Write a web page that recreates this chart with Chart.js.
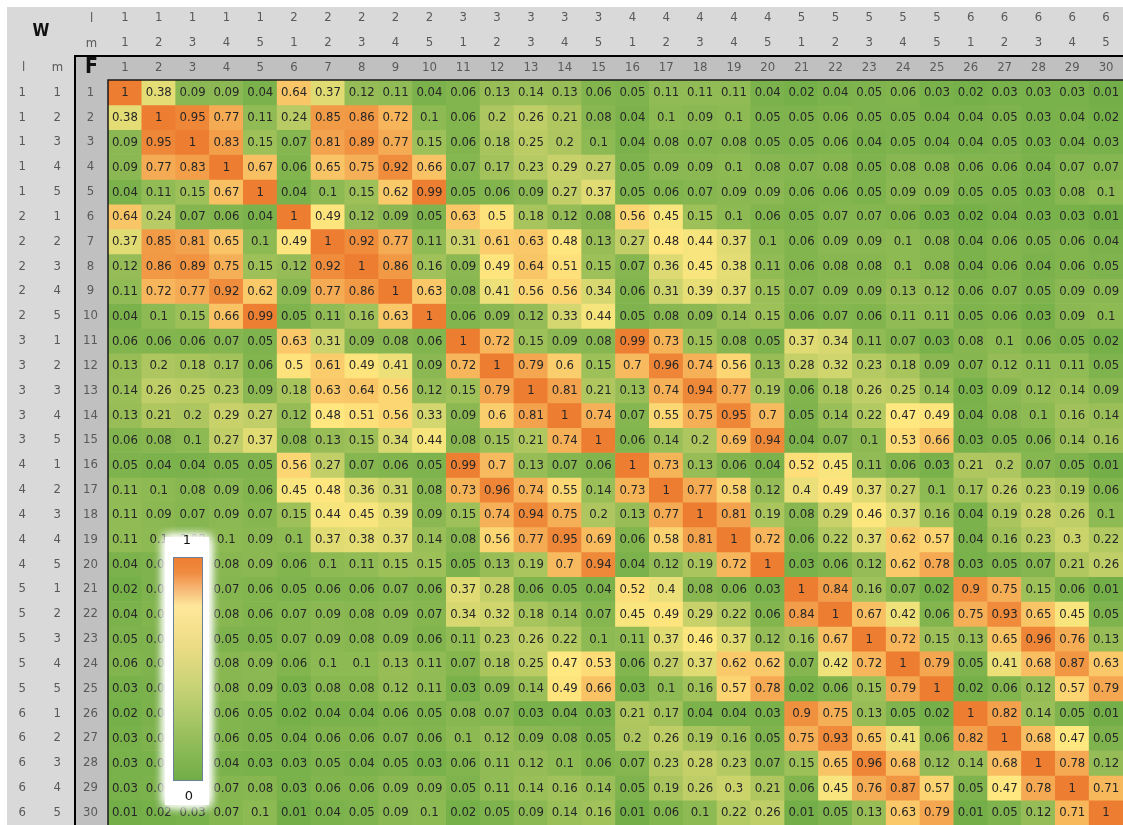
<!DOCTYPE html>
<html>
<head>
<meta charset="utf-8">
<title>Correlation heatmap</title>
<script src="https://cdn.jsdelivr.net/npm/chart.js@4.4.1/dist/chart.umd.min.js"></script>
<style>
  html, body { margin: 0; padding: 0; background: #fff; }
  #wrap { width: 1123px; height: 825px; }
</style>
</head>
<body>
<div id="wrap"><canvas id="heat" width="1123" height="825"></canvas></div>
<script>
// field numbers and their l / m codes
const fields = ['1','2','3','4','5','6','7','8','9','10','11','12','13','14','15',
  '16','17','18','19','20','21','22','23','24','25','26','27','28','29','30'];
const lLabels = ['1','1','1','1','1','2','2','2','2','2','3','3','3','3','3',
  '4','4','4','4','4','5','5','5','5','5','6','6','6','6','6'];
const mLabels = ['1','2','3','4','5','1','2','3','4','5','1','2','3','4','5',
  '1','2','3','4','5','1','2','3','4','5','1','2','3','4','5'];

// correlation between fields, one row per field
const corr = [
  [1,0.38,0.09,0.09,0.04,0.64,0.37,0.12,0.11,0.04,0.06,0.13,0.14,0.13,0.06,0.05,0.11,0.11,0.11,0.04,0.02,0.04,0.05,0.06,0.03,0.02,0.03,0.03,0.03,0.01],
  [0.38,1,0.95,0.77,0.11,0.24,0.85,0.86,0.72,0.1,0.06,0.2,0.26,0.21,0.08,0.04,0.1,0.09,0.1,0.05,0.05,0.06,0.05,0.05,0.04,0.04,0.05,0.03,0.04,0.02],
  [0.09,0.95,1,0.83,0.15,0.07,0.81,0.89,0.77,0.15,0.06,0.18,0.25,0.2,0.1,0.04,0.08,0.07,0.08,0.05,0.05,0.06,0.04,0.05,0.04,0.04,0.05,0.03,0.04,0.03],
  [0.09,0.77,0.83,1,0.67,0.06,0.65,0.75,0.92,0.66,0.07,0.17,0.23,0.29,0.27,0.05,0.09,0.09,0.1,0.08,0.07,0.08,0.05,0.08,0.08,0.06,0.06,0.04,0.07,0.07],
  [0.04,0.11,0.15,0.67,1,0.04,0.1,0.15,0.62,0.99,0.05,0.06,0.09,0.27,0.37,0.05,0.06,0.07,0.09,0.09,0.06,0.06,0.05,0.09,0.09,0.05,0.05,0.03,0.08,0.1],
  [0.64,0.24,0.07,0.06,0.04,1,0.49,0.12,0.09,0.05,0.63,0.5,0.18,0.12,0.08,0.56,0.45,0.15,0.1,0.06,0.05,0.07,0.07,0.06,0.03,0.02,0.04,0.03,0.03,0.01],
  [0.37,0.85,0.81,0.65,0.1,0.49,1,0.92,0.77,0.11,0.31,0.61,0.63,0.48,0.13,0.27,0.48,0.44,0.37,0.1,0.06,0.09,0.09,0.1,0.08,0.04,0.06,0.05,0.06,0.04],
  [0.12,0.86,0.89,0.75,0.15,0.12,0.92,1,0.86,0.16,0.09,0.49,0.64,0.51,0.15,0.07,0.36,0.45,0.38,0.11,0.06,0.08,0.08,0.1,0.08,0.04,0.06,0.04,0.06,0.05],
  [0.11,0.72,0.77,0.92,0.62,0.09,0.77,0.86,1,0.63,0.08,0.41,0.56,0.56,0.34,0.06,0.31,0.39,0.37,0.15,0.07,0.09,0.09,0.13,0.12,0.06,0.07,0.05,0.09,0.09],
  [0.04,0.1,0.15,0.66,0.99,0.05,0.11,0.16,0.63,1,0.06,0.09,0.12,0.33,0.44,0.05,0.08,0.09,0.14,0.15,0.06,0.07,0.06,0.11,0.11,0.05,0.06,0.03,0.09,0.1],
  [0.06,0.06,0.06,0.07,0.05,0.63,0.31,0.09,0.08,0.06,1,0.72,0.15,0.09,0.08,0.99,0.73,0.15,0.08,0.05,0.37,0.34,0.11,0.07,0.03,0.08,0.1,0.06,0.05,0.02],
  [0.13,0.2,0.18,0.17,0.06,0.5,0.61,0.49,0.41,0.09,0.72,1,0.79,0.6,0.15,0.7,0.96,0.74,0.56,0.13,0.28,0.32,0.23,0.18,0.09,0.07,0.12,0.11,0.11,0.05],
  [0.14,0.26,0.25,0.23,0.09,0.18,0.63,0.64,0.56,0.12,0.15,0.79,1,0.81,0.21,0.13,0.74,0.94,0.77,0.19,0.06,0.18,0.26,0.25,0.14,0.03,0.09,0.12,0.14,0.09],
  [0.13,0.21,0.2,0.29,0.27,0.12,0.48,0.51,0.56,0.33,0.09,0.6,0.81,1,0.74,0.07,0.55,0.75,0.95,0.7,0.05,0.14,0.22,0.47,0.49,0.04,0.08,0.1,0.16,0.14],
  [0.06,0.08,0.1,0.27,0.37,0.08,0.13,0.15,0.34,0.44,0.08,0.15,0.21,0.74,1,0.06,0.14,0.2,0.69,0.94,0.04,0.07,0.1,0.53,0.66,0.03,0.05,0.06,0.14,0.16],
  [0.05,0.04,0.04,0.05,0.05,0.56,0.27,0.07,0.06,0.05,0.99,0.7,0.13,0.07,0.06,1,0.73,0.13,0.06,0.04,0.52,0.45,0.11,0.06,0.03,0.21,0.2,0.07,0.05,0.01],
  [0.11,0.1,0.08,0.09,0.06,0.45,0.48,0.36,0.31,0.08,0.73,0.96,0.74,0.55,0.14,0.73,1,0.77,0.58,0.12,0.4,0.49,0.37,0.27,0.1,0.17,0.26,0.23,0.19,0.06],
  [0.11,0.09,0.07,0.09,0.07,0.15,0.44,0.45,0.39,0.09,0.15,0.74,0.94,0.75,0.2,0.13,0.77,1,0.81,0.19,0.08,0.29,0.46,0.37,0.16,0.04,0.19,0.28,0.26,0.1],
  [0.11,0.1,0.08,0.1,0.09,0.1,0.37,0.38,0.37,0.14,0.08,0.56,0.77,0.95,0.69,0.06,0.58,0.81,1,0.72,0.06,0.22,0.37,0.62,0.57,0.04,0.16,0.23,0.3,0.22],
  [0.04,0.05,0.05,0.08,0.09,0.06,0.1,0.11,0.15,0.15,0.05,0.13,0.19,0.7,0.94,0.04,0.12,0.19,0.72,1,0.03,0.06,0.12,0.62,0.78,0.03,0.05,0.07,0.21,0.26],
  [0.02,0.05,0.05,0.07,0.06,0.05,0.06,0.06,0.07,0.06,0.37,0.28,0.06,0.05,0.04,0.52,0.4,0.08,0.06,0.03,1,0.84,0.16,0.07,0.02,0.9,0.75,0.15,0.06,0.01],
  [0.04,0.06,0.06,0.08,0.06,0.07,0.09,0.08,0.09,0.07,0.34,0.32,0.18,0.14,0.07,0.45,0.49,0.29,0.22,0.06,0.84,1,0.67,0.42,0.06,0.75,0.93,0.65,0.45,0.05],
  [0.05,0.05,0.04,0.05,0.05,0.07,0.09,0.08,0.09,0.06,0.11,0.23,0.26,0.22,0.1,0.11,0.37,0.46,0.37,0.12,0.16,0.67,1,0.72,0.15,0.13,0.65,0.96,0.76,0.13],
  [0.06,0.05,0.05,0.08,0.09,0.06,0.1,0.1,0.13,0.11,0.07,0.18,0.25,0.47,0.53,0.06,0.27,0.37,0.62,0.62,0.07,0.42,0.72,1,0.79,0.05,0.41,0.68,0.87,0.63],
  [0.03,0.04,0.04,0.08,0.09,0.03,0.08,0.08,0.12,0.11,0.03,0.09,0.14,0.49,0.66,0.03,0.1,0.16,0.57,0.78,0.02,0.06,0.15,0.79,1,0.02,0.06,0.12,0.57,0.79],
  [0.02,0.04,0.04,0.06,0.05,0.02,0.04,0.04,0.06,0.05,0.08,0.07,0.03,0.04,0.03,0.21,0.17,0.04,0.04,0.03,0.9,0.75,0.13,0.05,0.02,1,0.82,0.14,0.05,0.01],
  [0.03,0.05,0.05,0.06,0.05,0.04,0.06,0.06,0.07,0.06,0.1,0.12,0.09,0.08,0.05,0.2,0.26,0.19,0.16,0.05,0.75,0.93,0.65,0.41,0.06,0.82,1,0.68,0.47,0.05],
  [0.03,0.03,0.03,0.04,0.03,0.03,0.05,0.04,0.05,0.03,0.06,0.11,0.12,0.1,0.06,0.07,0.23,0.28,0.23,0.07,0.15,0.65,0.96,0.68,0.12,0.14,0.68,1,0.78,0.12],
  [0.03,0.04,0.04,0.07,0.08,0.03,0.06,0.06,0.09,0.09,0.05,0.11,0.14,0.16,0.14,0.05,0.19,0.26,0.3,0.21,0.06,0.45,0.76,0.87,0.57,0.05,0.47,0.78,1,0.71],
  [0.01,0.02,0.03,0.07,0.1,0.01,0.04,0.05,0.09,0.1,0.02,0.05,0.09,0.14,0.16,0.01,0.06,0.1,0.22,0.26,0.01,0.05,0.13,0.63,0.79,0.01,0.05,0.12,0.71,1]
];

// green -> yellow -> orange colour scale
const heatStops = [
  [0, [112, 173, 71]],
  [0.47, [255, 232, 128]],
  [1, [237, 125, 49]]
];

function heatColor(v) {
  for (let i = 1; i < heatStops.length; i++) {
    const [p0, c0] = heatStops[i - 1];
    const [p1, c1] = heatStops[i];
    if (v <= p1 || i === heatStops.length - 1) {
      const t = Math.max(0, Math.min(1, (v - p0) / (p1 - p0)));
      const rgb = c0.map((c, k) => Math.round(c + (c1[k] - c) * t));
      return 'rgb(' + rgb.join(',') + ')';
    }
  }
}

const narrow = "'Liberation Sans Narrow', 'DejaVu Sans Condensed', 'Arial Narrow', sans-serif";
const headFont = { family: narrow, size: 13 };

function headerAxis(position, labels, weight, size, padding) {
  const horizontal = position === 'top';
  return {
    type: 'category',
    position: position,
    labels: labels,
    offset: true,
    weight: weight,
    grid: { display: false, drawTicks: false, tickLength: 0 },
    border: { display: false },
    ticks: {
      color: '#595959',
      font: headFont,
      padding: padding,
      autoSkip: false,
      maxRotation: 0,
      crossAlign: horizontal ? 'near' : 'center'
    },
    afterFit(scale) {
      if (horizontal) scale.height = size;
      else scale.width = size;
      // header bands sit flush against the grid, no extra room for label overhang
      scale.paddingTop = 0;
      scale.paddingBottom = 0;
      scale.paddingLeft = 0;
      scale.paddingRight = 0;
    }
  };
}

// one dataset per row, each bar spans one unit on the row axis
const datasets = corr.map((row, r) => ({
  label: fields[r],
  data: row.map(() => [r, r + 1]),
  backgroundColor: (ctx) => heatColor(corr[ctx.datasetIndex][ctx.dataIndex]),
  borderWidth: 0,
  barPercentage: 1,
  categoryPercentage: 1,
  grouped: false
}));

// grey header bands behind the axes
const headerBands = {
  id: 'headerBands',
  beforeDraw(chart) {
    const { ctx, scales: s } = chart;
    const W = chart.width, H = chart.height;
    ctx.save();
    ctx.fillStyle = '#fff';
    ctx.fillRect(0, 0, W, H);
    ctx.fillStyle = '#d9d9d9';
    ctx.fillRect(s.yl.left, s.xl.top, W - s.yl.left, H - s.xl.top);
    ctx.fillStyle = '#c0c0c0';
    ctx.fillRect(s.yF.left, s.x.top, W - s.yF.left, s.x.bottom - s.x.top);
    ctx.fillRect(s.yF.left, s.x.top, s.yF.right - s.yF.left, H - s.x.top);

    ctx.fillStyle = '#595959';
    ctx.font = '13px ' + narrow;
    ctx.textAlign = 'center';
    ctx.textBaseline = 'middle';
    const fx = (s.yF.left + s.yF.right) / 2;
    const rowY = (s.x.top + s.x.bottom) / 2;
    ctx.fillText('l', fx, (s.xl.top + s.xl.bottom) / 2);
    ctx.fillText('m', fx, (s.xm.top + s.xm.bottom) / 2);
    ctx.fillText('l', (s.yl.left + s.yl.right) / 2, rowY);
    ctx.fillText('m', (s.ym.left + s.ym.right) / 2, rowY);

    ctx.fillStyle = '#111';
    ctx.font = 'bold 21px ' + narrow;
    ctx.fillText('F', fx, rowY);
    ctx.font = 'bold 17px ' + narrow;
    ctx.fillText('W', (s.yl.left + s.ym.right) / 2, (s.xl.top + s.xm.bottom) / 2);
    ctx.restore();
  }
};

// value text in every cell plus the frame lines
const cellText = {
  id: 'cellText',
  afterDatasetsDraw(chart) {
    const { ctx, chartArea: a, scales: s } = chart;
    const W = chart.width, H = chart.height;
    ctx.save();
    ctx.font = '13px ' + narrow;
    ctx.fillStyle = '#262626';
    ctx.textAlign = 'center';
    ctx.textBaseline = 'middle';
    chart.data.datasets.forEach((ds, r) => {
      chart.getDatasetMeta(r).data.forEach((bar, c) => {
        const { x, y, base } = bar.getProps(['x', 'y', 'base'], true);
        ctx.fillText(String(corr[r][c]), x, (y + base) / 2 + 0.5);
      });
    });

    ctx.strokeStyle = '#000';
    ctx.lineWidth = 2;
    ctx.beginPath();
    ctx.moveTo(s.yF.left, H);
    ctx.lineTo(s.yF.left, s.x.top);
    ctx.lineTo(W, s.x.top);
    ctx.stroke();

    ctx.strokeStyle = '#1a1a1a';
    ctx.lineWidth = 1.5;
    ctx.beginPath();
    ctx.moveTo(a.left, H);
    ctx.lineTo(a.left, a.top);
    ctx.lineTo(W, a.top);
    ctx.stroke();
    ctx.restore();
  }
};

// colour key floating over the lower left of the grid
const colourKey = {
  id: 'colourKey',
  afterDraw(chart) {
    const ctx = chart.ctx;
    ctx.save();
    ctx.fillStyle = '#fff';
    ctx.shadowColor = '#fff';
    ctx.shadowBlur = 10;
    for (let i = 0; i < 3; i++) ctx.fillRect(165, 537, 44, 268);
    ctx.shadowBlur = 0;

    const top = 557, bottom = 781, left = 173, right = 203;
    const g = ctx.createLinearGradient(0, top, 0, bottom);
    g.addColorStop(0, '#ed7d31');
    g.addColorStop(0.07, '#f08b40');
    g.addColorStop(0.15, '#f7bc79');
    g.addColorStop(0.22, '#fee79b');
    g.addColorStop(0.4, '#ecdc84');
    g.addColorStop(0.6, '#c3d174');
    g.addColorStop(0.8, '#97bf5c');
    g.addColorStop(1, '#70ad47');
    ctx.fillStyle = g;
    ctx.fillRect(left, top, right - left, bottom - top);
    ctx.strokeStyle = '#6b7f99';
    ctx.lineWidth = 1;
    ctx.strokeRect(left + 0.5, top + 0.5, right - left - 1, bottom - top - 1);

    ctx.fillStyle = '#111';
    ctx.font = '13px "DejaVu Sans", sans-serif';
    ctx.textAlign = 'center';
    ctx.textBaseline = 'middle';
    ctx.fillText('1', 187, 541);
    ctx.fillText('0', 189, 797);
    ctx.restore();
  }
};

new Chart(document.getElementById('heat'), {
  type: 'bar',
  data: { labels: fields, datasets: datasets },
  options: {
    responsive: false,
    animation: false,
    layout: { padding: { top: 7, left: 7, right: 0, bottom: 0 } },
    plugins: {
      legend: { display: false },
      tooltip: { enabled: false }
    },
    scales: {
      x: headerAxis('top', fields, 0, 24, 5),
      xm: headerAxis('top', mLabels, 1, 25, 6),
      xl: headerAxis('top', lLabels, 2, 24, 6),
      y: { type: 'linear', display: false, min: 0, max: 30, reverse: true },
      yF: headerAxis('left', fields, 0, 33, 10),
      ym: headerAxis('left', mLabels, 1, 35, 14),
      yl: headerAxis('left', lLabels, 2, 33, 14)
    }
  },
  plugins: [headerBands, cellText, colourKey]
});
</script>
</body>
</html>
